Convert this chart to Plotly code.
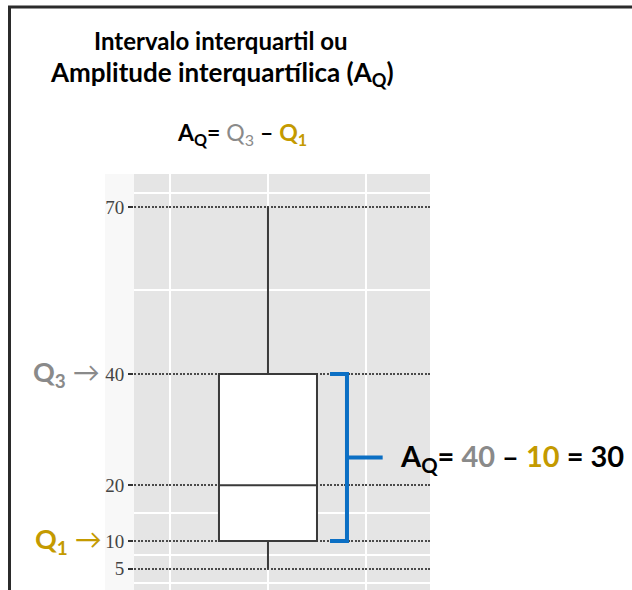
import plotly.graph_objects as go

# Five-number summary of the box plot
whisker_low = 5
q1 = 10
median = 20
q3 = 40
whisker_high = 70

# Labelled axis ticks and the extra (unlabelled) panel grid lines
y_ticks = [5, 10, 20, 40, 70]
y_minor_grid = [2.5, 7.5, 15, 55, 72.5]
x_grid = [-1, 0, 1]

W, H = 632, 590
GRAY = "#8a8a8a"
GOLD = "#C49A00"
BLUE = "#0B6FC4"
FONT = "Lato"


def px(x):
    return x / W


def py(y):
    return 1 - y / H


fig = go.Figure()

fig.add_trace(go.Box(
    x=[0],
    q1=[q1], median=[median], q3=[q3],
    lowerfence=[whisker_low], upperfence=[whisker_high],
    width=1, whiskerwidth=0,
    fillcolor="white",
    line=dict(color="#3a3a3a", width=2),
    boxpoints=False,
    hoverinfo="skip",
    showlegend=False,
))

# Curly bracket spanning the interquartile range
xv, xh, xt = 0.806, 0.633, 1.17
mid = (q1 + q3) / 2
fig.add_shape(type="path",
              path=f"M {xh},{q3} L {xv},{q3} L {xv},{q1} L {xh},{q1}",
              xref="x", yref="y", line=dict(color=BLUE, width=4))
fig.add_shape(type="line", x0=xv, x1=xt, y0=mid, y1=mid,
              xref="x", yref="y", line=dict(color=BLUE, width=4))

# Frame around the slide
fig.add_shape(type="line", xref="paper", yref="paper",
              x0=px(9.5), x1=px(9.5), y0=0, y1=py(6),
              line=dict(color="#2b2b2b", width=3))
fig.add_shape(type="line", xref="paper", yref="paper",
              x0=px(8), x1=1, y0=py(7), y1=py(7),
              line=dict(color="#2b2b2b", width=3))

# faint tint behind the axis labels
fig.add_shape(type="rect", xref="paper", yref="paper",
              x0=px(105), x1=px(134), y0=0, y1=py(174),
              fillcolor="#f8f8f8", line=dict(width=0), layer="below")

ann = []
ann.append(dict(text="<b>Intervalo interquartil ou</b>",
                x=px(221), y=py(40), font=dict(size=24, color="black", family=FONT)))
ann.append(dict(text="<b>Amplitude interquartílica (A<sub>Q</sub>)</b>",
                x=px(222), y=py(73), font=dict(size=26, color="black", family=FONT)))
ann.append(dict(text=(f"<b>A<sub>Q</sub>=</b> <span style='color:{GRAY}'>Q<sub>3</sub></span>"
                      f" <b>–</b> <b><span style='color:{GOLD}'>Q<sub>1</sub></span></b>"),
                x=px(242), y=py(133), font=dict(size=23, color="black", family=FONT)))
for a in ann:
    a.update(xref="paper", yref="paper", xanchor="center", yanchor="middle", showarrow=False)

ann.append(dict(text=f"<b>Q<sub>3</sub></b> →", xref="paper", yref="y",
                x=px(102), y=q3, xanchor="right", yanchor="middle", showarrow=False,
                font=dict(size=27, color=GRAY, family=FONT)))
ann.append(dict(text=f"<b>Q<sub>1</sub></b> →", xref="paper", yref="y",
                x=px(104), y=q1, xanchor="right", yanchor="middle", showarrow=False,
                font=dict(size=27, color=GOLD, family=FONT)))
ann.append(dict(text=(f"<b>A<sub>Q</sub>= <span style='color:{GRAY}'>{q3}</span> – "
                      f"<span style='color:{GOLD}'>{q1}</span> = {q3 - q1}</b>"),
                xref="paper", yref="y", x=px(398), y=mid,
                xanchor="left", yanchor="middle", showarrow=False,
                font=dict(size=29, color="black", family=FONT)))

fig.update_layout(
    width=W, height=H,
    margin=dict(l=0, r=0, t=0, b=0),
    paper_bgcolor="white",
    plot_bgcolor="#e5e5e5",
    annotations=ann,
    xaxis=dict(
        domain=[px(134), px(430)],
        range=[-1.367, 1.653],
        tickvals=x_grid, showticklabels=False, ticks="",
        showgrid=True, gridcolor="white", gridwidth=2,
        zeroline=False, showline=False,
    ),
    yaxis=dict(
        domain=[0, py(174)],
        range=[1.2, 75.9],
        tickvals=y_ticks, ticktext=[str(v) for v in y_ticks],
        ticks="outside", ticklen=5, tickwidth=2, tickcolor="#333",
        tickfont=dict(family="Liberation Serif", size=19, color="#444444"),
        showgrid=True, gridcolor="#4a4a4a", gridwidth=2, griddash="2px,1.5px",
        minor=dict(tickvals=y_minor_grid, showgrid=True, gridcolor="white",
                   gridwidth=2, griddash="solid", ticks=""),
        zeroline=False, showline=False,
    ),
)

fig.write_html("out.html")
